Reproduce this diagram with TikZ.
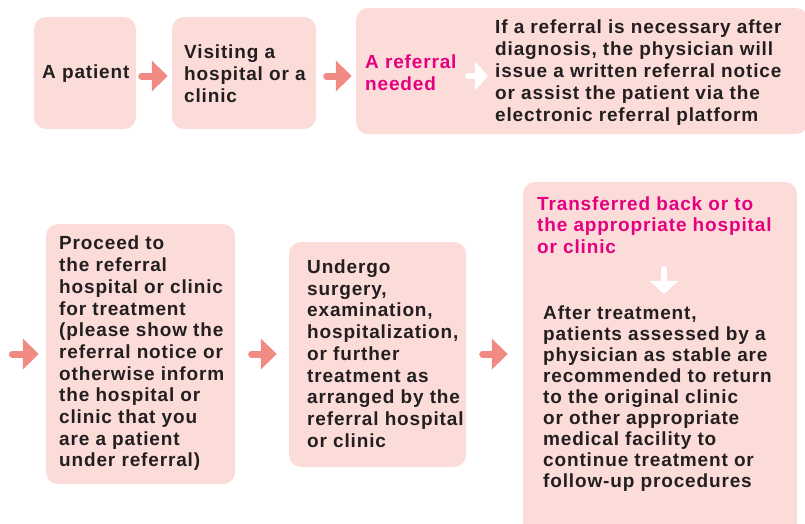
\documentclass[tikz,border=0pt]{standalone}
\usepackage{fontspec}
\setmainfont{Liberation Sans}[LetterSpace=4.5]
\usetikzlibrary{arrows.meta,calc}
\definecolor{boxpink}{HTML}{FCDCD8}
\definecolor{arrowred}{HTML}{F28A84}
\definecolor{magentatext}{HTML}{E5007F}
\definecolor{darktext}{HTML}{231F20}
\begin{document}
\begin{tikzpicture}[x=1pt,y=-1pt,
  box/.style={fill=boxpink, rounded corners=12pt, draw=none, inner sep=0pt},
  txt/.style={anchor=west, align=left, inner sep=0pt, font=\fontsize{19}{21.7}\selectfont\bfseries, text=darktext},
  txta/.style={txt, font=\fontsize{19}{22}\selectfont\bfseries},
  txtb/.style={txt, font=\fontsize{19}{21}\selectfont\bfseries},
  hl/.style={txt, text=magentatext},
  hla/.style={txta, text=magentatext},
  flow/.style={draw=arrowred, line width=7pt, line cap=round, -{Triangle[length=16pt,width=30pt]}},
  flowwhite/.style={draw=white, line width=6pt, line cap=round, -{Triangle[length=13pt,width=28pt]}}]
\useasboundingbox (0,0) rectangle (805,523);
% boxes
\node[box, minimum width=102pt, minimum height=112pt] (b1) at (85,73) {};
\node[box, minimum width=144pt, minimum height=112pt] (b2) at (244,73) {};
\node[box, minimum width=452pt, minimum height=126pt] (b3) at (582,71) {};
\node[box, minimum width=189pt, minimum height=260pt] (b4) at (140.5,354) {};
\node[box, minimum width=177pt, minimum height=225pt] (b5) at (377.5,354.5) {};
\node[box, minimum width=274pt, minimum height=358pt] (b6) at (660,361) {};
% texts
\node[txta] (t1) at (42,74) {A patient};
\node[txta] (t2) at (184,74) {Visiting a\\hospital or a\\clinic};
\node[hla] (t3a) at (365,73) {A referral\\needed};
\node[txta] (t3b) at (495,73) {If a referral is necessary after\\diagnosis, the physician will\\issue a written referral notice\\or assist the patient via the\\electronic referral platform};
\node[txt] (t4) at (59,353.5) {Proceed to\\the referral\\hospital or clinic\\for treatment\\(please show the\\referral notice or\\otherwise inform\\the hospital or\\clinic that you\\are a patient\\under referral)};
\node[txt] (t5) at (307,353.5) {Undergo\\surgery,\\examination,\\hospitalization,\\or further\\treatment as\\arranged by the\\referral hospital\\or clinic};
\node[hl] (t6a) at (537,225) {Transferred back or to\\the appropriate hospital\\or clinic};
\node[txtb] (t6b) at (543,399) {After treatment,\\patients assessed by a\\physician as stable are\\recommended to return\\to the original clinic\\or other appropriate\\medical facility to\\continue treatment or\\follow-up procedures};
% connectors
\coordinate (start) at ($(b4.west)+(-33.5,0)$);
\draw[flow] ($(b1.east)+(5.5,3)$) -- ($(b2.west)+(-4,3)$);
\draw[flow] ($(b2.east)+(10.5,3)$) -- ($(b3.west)+(-4,5)$);
\draw[flowwhite] ($(b3.west)+(112,5)$) -- ($(t3b.west)+(-7,3)$);
\draw[flow] (start) -- ($(b4.west)+(-7,0)$);
\draw[flow] ($(b4.east)+(16.5,0)$) -- ($(b5.west)+(-12,-0.5)$);
\draw[flow] ($(b5.east)+(16.5,-0.5)$) -- ($(b6.west)+(-15,-7)$);
\draw[flowwhite] ($(b6.center |- t6a.south)+(4,15)$) -- ($(b6.center |- t6b.north)+(4,-12)$);
\end{tikzpicture}
\end{document}
